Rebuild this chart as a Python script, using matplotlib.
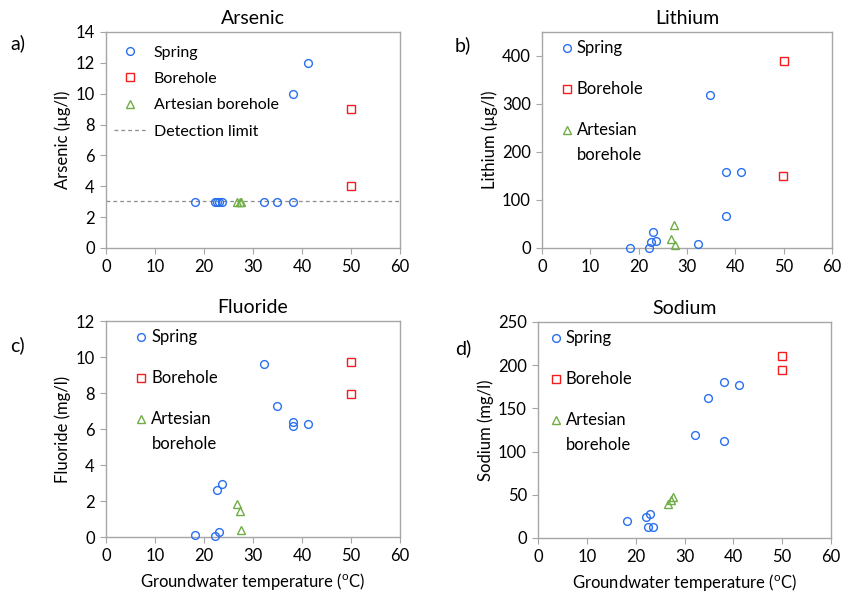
import matplotlib
matplotlib.use("Agg")
import matplotlib.pyplot as plt

plt.rcParams['font.family'] = ['Lato', 'DejaVu Sans']
plt.rcParams['mathtext.fontset'] = 'custom'
plt.rcParams['mathtext.rm'] = 'Lato'

# Data
spring_temp = [18.2, 22.2, 22.6, 23.0, 23.6, 32.2, 34.8, 38.1, 38.1, 41.2]
bore_temp = [49.9, 50.0]
art_temp = [26.7, 27.3, 27.6]

arsenic_spring = [3, 3, 3, 3, 3, 3, 3, 3, 10, 12]
arsenic_bore = [9, 4]
arsenic_art = [3, 3, 3]
detection_limit = 3.05

lithium_spring = [1, 0, 13, 33, 14, 9, 318, 159, 67, 158]
lithium_bore = [150, 389]
lithium_art = [19, 48, 5.5]

fluoride_spring = [0.13, 0.06, 2.63, 0.26, 2.96, 9.6, 7.27, 6.37, 6.15, 6.26]
fluoride_bore = [7.95, 9.75]
fluoride_art = [1.86, 1.43, 0.39]

sodium_spring = [20, 24, 12.4, 28, 12.4, 119, 162, 180, 112, 177]
sodium_bore = [194, 211]
sodium_art = [39.5, 44.5, 47.6]

blue = '#2A6FF0'
red = '#F21C1C'
green = '#70AD47'
grey = '#8C8C8C'

W, H = 844, 602
fig = plt.figure(figsize=(W / 100, H / 100), dpi=100)

def add_ax(l, r, t, b):
    return fig.add_axes([l / W, 1 - b / H, (r - l) / W, (b - t) / H])

axes = [
    add_ax(106, 400, 32, 248),
    add_ax(542, 832, 32, 248),
    add_ax(106, 400, 321, 537),
    add_ax(538, 831, 322, 538),
]

panels = [
    ('Arsenic', 'Arsenic (µg/l)', arsenic_spring, arsenic_bore, arsenic_art, (0, 14), range(0, 15, 2), 'a)'),
    ('Lithium', 'Lithium (µg/l)', lithium_spring, lithium_bore, lithium_art, (0, 450), range(0, 401, 100), 'b)'),
    ('Fluoride', 'Fluoride (mg/l)', fluoride_spring, fluoride_bore, fluoride_art, (0, 12), range(0, 13, 2), 'c)'),
    ('Sodium', 'Sodium (mg/l)', sodium_spring, sodium_bore, sodium_art, (0, 250), range(0, 251, 50), 'd)'),
]

label_pos = [(10, 43), (455, 45), (10, 345), (455, 348)]
leg_x = [None, 0.04, 0.075, 0.015]
extra_texts = []

for i, (ax, (title, ylab, sp, bo, ar, ylim, yt, plab)) in enumerate(zip(axes, panels)):
    ax.plot(spring_temp, sp, 'o', mfc='none', mec=blue, ms=5.6, mew=1.0, label='Spring', clip_on=False, zorder=3)
    ax.plot(bore_temp, bo, 's', mfc='none', mec=red, ms=5.6, mew=1.0, label='Borehole', clip_on=False, zorder=3)
    art_label = 'Artesian borehole' if i == 0 else 'Artesian'
    ax.plot(art_temp, ar, '^', mfc='none', mec=green, ms=5.4, mew=1.0, label=art_label, clip_on=False, zorder=3)
    if i == 0:
        ax.axhline(detection_limit, color=grey, ls=(0, (3, 2.5)), lw=0.9, label='Detection limit', zorder=2)
    ax.set_xlim(0, 60)
    ax.set_ylim(*ylim)
    ax.set_xticks(range(0, 61, 10))
    ax.set_yticks(list(yt))
    ax.set_title(title, fontsize=14, pad=6)
    ax.set_ylabel(ylab, fontsize=12, labelpad=3)
    if i >= 2:
        ax.set_xlabel('Groundwater temperature ($^{\\mathrm{o}}$C)', fontsize=12, labelpad=5)
    for s in ax.spines.values():
        s.set_color('#A6A6A6')
        s.set_linewidth(1.0)
    ax.tick_params(direction='out', length=4, color='#A6A6A6', labelsize=12, pad=4)
    if i == 0:
        ax.legend(loc='upper left', frameon=False, fontsize=11.5, handlelength=2.1,
                  handletextpad=0.4, labelspacing=0.76, borderaxespad=0.45,
                  bbox_to_anchor=(-0.02, 1.0), numpoints=1)
    else:
        leg = ax.legend(loc='upper left', frameon=False, fontsize=12, handlelength=0.6,
                        handletextpad=0.3, labelspacing=1.5, borderaxespad=0.1,
                        bbox_to_anchor=(leg_x[i], 1.0), numpoints=1)
        extra_texts.append(leg.get_texts()[2])
    fig.text(label_pos[i][0] / W, 1 - label_pos[i][1] / H, plab, fontsize=14, ha='left', va='center')

# second line of the "Artesian borehole" legend label, placed under "Artesian"
fig.canvas.draw()
for t in extra_texts:
    bb = t.get_window_extent()
    fig.text(bb.x0 / W, (bb.y0 - 25) / H, 'borehole', fontsize=12, ha='left', va='bottom')

fig.savefig('out.png', dpi=100)
